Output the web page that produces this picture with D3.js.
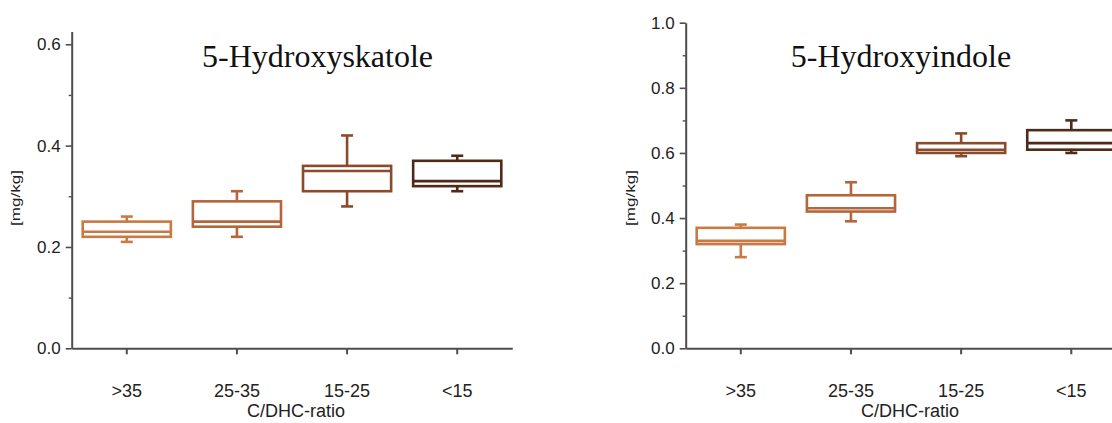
<!DOCTYPE html>
<html>
<head>
<meta charset="utf-8">
<script src="https://cdn.jsdelivr.net/npm/d3@7"></script>
<style>
  html, body { margin: 0; padding: 0; background: #fff; overflow: hidden; }
  svg { display: block; }
  .tick text { font-family: "Liberation Sans", Arial, sans-serif; fill: #222; }
</style>
</head>
<body>
<svg id="chart" width="1112" height="423"></svg>
<script>
// C/DHC-ratio groups
const categories = [">35", "25-35", "15-25", "<15"];

// 5-Hydroxyskatole box statistics [mg/kg]
const skatoleMin    = [0.21, 0.22, 0.28, 0.31];
const skatoleQ1     = [0.22, 0.24, 0.31, 0.32];
const skatoleMedian = [0.23, 0.25, 0.35, 0.33];
const skatoleQ3     = [0.25, 0.29, 0.36, 0.37];
const skatoleMax    = [0.26, 0.31, 0.42, 0.38];

// 5-Hydroxyindole box statistics [mg/kg]
const indoleMin    = [0.28, 0.39, 0.59, 0.60];
const indoleQ1     = [0.32, 0.42, 0.60, 0.61];
const indoleMedian = [0.33, 0.43, 0.61, 0.63];
const indoleQ3     = [0.37, 0.47, 0.63, 0.67];
const indoleMax    = [0.38, 0.51, 0.66, 0.70];

// axis ticks
const skatoleMajorTicks = [0.0, 0.2, 0.4, 0.6];
const skatoleMinorTicks = [0.1, 0.3, 0.5];
const indoleMajorTicks  = [0.0, 0.2, 0.4, 0.6, 0.8, 1.0];
const indoleMinorTicks  = [0.1, 0.3, 0.5, 0.7, 0.9];

// one colour per ratio group, light to dark
const groupColors = ["#c97a43", "#b4663a", "#8a4b2b", "#4e2b18"];

const svg = d3.select("#chart");
const axisColor = "#4d4d4d";

function drawPanel(opts) {
  const { left, right, bottom, top, yMax, title, titleX,
          majorTicks, minorTicks, stats, labelX } = opts;

  const x = d3.scaleBand()
    .domain(categories)
    .range([left, right])
    .paddingInner(0.2)
    .paddingOuter(0.1);

  const y = d3.scaleLinear().domain([0, yMax]).range([bottom, top]);

  const g = svg.append("g");

  // x axis
  const xAxis = g.append("g")
    .attr("transform", `translate(0,${bottom})`)
    .call(d3.axisBottom(x).tickSize(6).tickSizeOuter(0));
  xAxis.select(".domain").attr("stroke", axisColor).attr("stroke-width", 2);
  xAxis.selectAll(".tick line").attr("stroke", axisColor).attr("stroke-width", 2);
  xAxis.selectAll(".tick text")
    .attr("y", 42).attr("dy", "0.35em")
    .style("font-size", "18px");

  // y axis (major)
  const yAxis = g.append("g")
    .attr("transform", `translate(${left},0)`)
    .call(d3.axisLeft(y).tickValues(majorTicks).tickFormat(d3.format(".1f"))
      .tickSize(6).tickPadding(5).tickSizeOuter(0));
  yAxis.select(".domain").attr("stroke", axisColor).attr("stroke-width", 2);
  yAxis.selectAll(".tick line").attr("stroke", axisColor).attr("stroke-width", 1.6);
  yAxis.selectAll(".tick text").style("font-size", "17px");

  // y axis (minor)
  const yMinor = g.append("g")
    .attr("transform", `translate(${left},0)`)
    .call(d3.axisLeft(y).tickValues(minorTicks).tickFormat("").tickSize(3).tickSizeOuter(0));
  yMinor.select(".domain").remove();
  yMinor.selectAll(".tick line").attr("stroke", axisColor).attr("stroke-width", 1.4);

  // axis titles
  g.append("text")
    .attr("x", (left + right) / 2 + 4)
    .attr("y", 417)
    .attr("text-anchor", "middle")
    .style("font-family", "'Liberation Sans', Arial, sans-serif")
    .style("font-size", "18px")
    .attr("fill", "#222")
    .text("C/DHC-ratio");

  g.append("text")
    .attr("transform", `translate(${labelX},198) rotate(-90)`)
    .attr("text-anchor", "middle")
    .attr("dy", "0.35em")
    .attr("textLength", 56)
    .attr("lengthAdjust", "spacingAndGlyphs")
    .style("font-family", "'Liberation Sans', Arial, sans-serif")
    .style("font-size", "12px")
    .attr("fill", "#222")
    .text("[mg/kg]");

  // panel title
  g.append("text")
    .attr("x", titleX)
    .attr("y", 67)
    .attr("text-anchor", "middle")
    .style("font-family", "'Liberation Serif', 'Times New Roman', serif")
    .style("font-size", "32px")
    .attr("fill", "#111")
    .text(title);

  // boxes
  const capW = 12;
  const rows = categories.map((c, i) => ({
    cat: c, color: groupColors[i],
    min: stats.min[i], q1: stats.q1[i], med: stats.median[i],
    q3: stats.q3[i], max: stats.max[i]
  }));

  const box = g.append("g").selectAll("g").data(rows).join("g")
    .attr("fill", "none")
    .attr("stroke", d => d.color)
    .attr("stroke-width", 2.6);

  const cx = d => x(d.cat) + x.bandwidth() / 2;

  // whiskers
  box.append("line")
    .attr("x1", cx).attr("x2", cx)
    .attr("y1", d => y(d.q3)).attr("y2", d => y(d.max));
  box.append("line")
    .attr("x1", cx).attr("x2", cx)
    .attr("y1", d => y(d.q1)).attr("y2", d => y(d.min));
  box.append("line")
    .attr("x1", d => cx(d) - capW / 2).attr("x2", d => cx(d) + capW / 2)
    .attr("y1", d => y(d.max)).attr("y2", d => y(d.max));
  box.append("line")
    .attr("x1", d => cx(d) - capW / 2).attr("x2", d => cx(d) + capW / 2)
    .attr("y1", d => y(d.min)).attr("y2", d => y(d.min));

  // box body
  box.append("rect")
    .attr("x", d => x(d.cat))
    .attr("width", x.bandwidth())
    .attr("y", d => y(d.q3))
    .attr("height", d => y(d.q1) - y(d.q3))
    .attr("fill", "#fff");

  // median
  box.append("line")
    .attr("x1", d => x(d.cat)).attr("x2", d => x(d.cat) + x.bandwidth())
    .attr("y1", d => y(d.med)).attr("y2", d => y(d.med));
}

drawPanel({
  left: 71.7, right: 512.3, bottom: 348.3, top: 31.6, yMax: 0.625,
  title: "5-Hydroxyskatole", titleX: 317.5,
  majorTicks: skatoleMajorTicks, minorTicks: skatoleMinorTicks,
  labelX: 16,
  stats: { min: skatoleMin, q1: skatoleQ1, median: skatoleMedian, q3: skatoleQ3, max: skatoleMax }
});

drawPanel({
  left: 685.7, right: 1126.4, bottom: 348.3, top: 22.7, yMax: 1.0,
  title: "5-Hydroxyindole", titleX: 901,
  majorTicks: indoleMajorTicks, minorTicks: indoleMinorTicks,
  labelX: 631,
  stats: { min: indoleMin, q1: indoleQ1, median: indoleMedian, q3: indoleQ3, max: indoleMax }
});
</script>
</body>
</html>
